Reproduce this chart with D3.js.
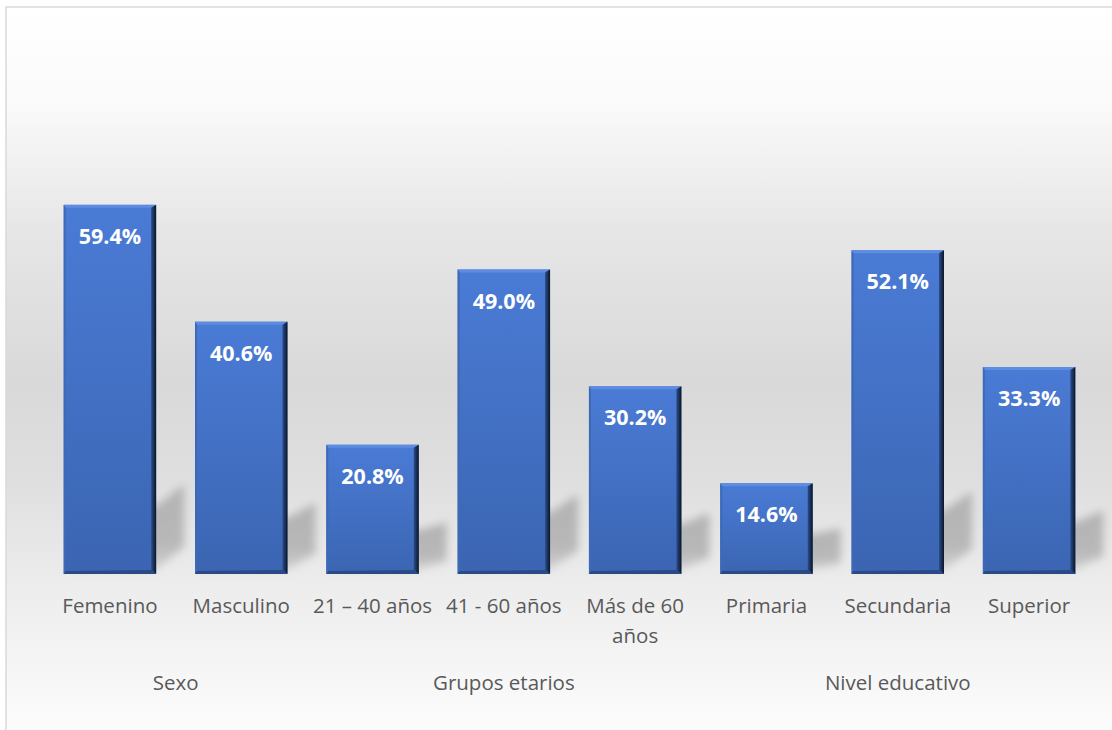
<!DOCTYPE html>
<html>
<head>
<meta charset="utf-8">
<script src="https://cdn.jsdelivr.net/npm/d3@7"></script>
<style>
  html, body { margin: 0; padding: 0; background: #fff; }
  svg { display: block; }
</style>
</head>
<body>
<svg id="chart" width="1112" height="730"></svg>
<script>
"use strict";

const categories = ["Femenino", "Masculino", "21 – 40 años", "41 - 60 años", "Más de 60 años", "Primaria", "Secundaria", "Superior"];
const values = [59.4, 40.6, 20.8, 49.0, 30.2, 14.6, 52.1, 33.3];
const groups = ["Sexo", "Grupos etarios", "Nivel educativo"];
const groupSizes = [2, 3, 3];

const W = 1112, H = 730;
const baseY = 574;
const labelFont = "'Open Sans', Lato, sans-serif";

const svg = d3.select("#chart");
const defs = svg.append("defs");

// background gradient of the chart area
let bg = defs.append("linearGradient").attr("id", "bg").attr("x1", 0).attr("y1", 0).attr("x2", 0).attr("y2", 1);
[[0, "#ffffff"], [0.12, "#fbfbfb"], [0.3, "#e6e6e6"], [0.5, "#d9d9d9"], [0.62, "#dedede"], [0.8, "#efefef"], [1, "#ffffff"]]
  .forEach(s => bg.append("stop").attr("offset", s[0]).attr("stop-color", s[1]));

let barGrad = defs.append("linearGradient").attr("id", "barFill").attr("x1", 0).attr("y1", 0).attr("x2", 0).attr("y2", 1);
barGrad.append("stop").attr("offset", 0).attr("stop-color", "#4a7bd5");
barGrad.append("stop").attr("offset", 1).attr("stop-color", "#3b65b2");

let rightGrad = defs.append("linearGradient").attr("id", "rightEdge").attr("x1", 0).attr("y1", 0).attr("x2", 1).attr("y2", 0);
rightGrad.append("stop").attr("offset", 0).attr("stop-color", "#2c4e8c");
rightGrad.append("stop").attr("offset", 1).attr("stop-color", "#0b1526");

defs.append("filter").attr("id", "blur").attr("x", "-50%").attr("y", "-50%").attr("width", "200%").attr("height", "200%")
  .append("feGaussianBlur").attr("stdDeviation", 4.5);

let shadowGrad = defs.append("linearGradient").attr("id", "shadowFill").attr("x1", 0).attr("y1", 0).attr("x2", 0).attr("y2", 1);
shadowGrad.append("stop").attr("offset", 0).attr("stop-color", "#b3b3b3");
shadowGrad.append("stop").attr("offset", 0.7).attr("stop-color", "#b8b8b8");
shadowGrad.append("stop").attr("offset", 1).attr("stop-color", "#d0d0d0");

svg.append("rect").attr("x", 6).attr("y", 7).attr("width", W + 20).attr("height", H + 20)
  .attr("fill", "url(#bg)").attr("stroke", "#d9d9d9").attr("stroke-width", 1.5);

const x = d3.scaleBand().domain(categories).range([44, 1095]).paddingInner(0.296).paddingOuter(0.15);
const y = d3.scaleLinear().domain([0, 70]).range([baseY, 139]);

// shadows cast behind the bars
svg.append("g").attr("filter", "url(#blur)")
  .selectAll("polygon").data(values).enter().append("polygon")
  .attr("fill", "url(#shadowFill)")
  .attr("points", (d, i) => {
    let x0 = x(categories[i]), x1 = x0 + x.bandwidth()
    let h = baseY - y(d)
    let k = 0.06 * h, sh = 0.1 * h + 26, dx = 28
    let b = baseY - 5
    return [[x0 + 10, b], [x1, b], [x1 + dx, b - k], [x1 + dx, b - k - sh], [x1, b - sh], [x0 + 10, b - sh]].map(p => p.join(",")).join(" ")
  });

// bars with bevel edges
let bars = svg.append("g").selectAll("g").data(values).enter().append("g");
bars.append("rect")
  .attr("x", (d, i) => x(categories[i])).attr("y", d => y(d))
  .attr("width", x.bandwidth()).attr("height", d => baseY - y(d))
  .attr("fill", "url(#barFill)");
const bev = 5;
// top bevel
bars.append("polygon").attr("fill", "#5d8ce0")
  .attr("points", (d, i) => {
    let x0 = x(categories[i]), x1 = x0 + x.bandwidth(), t = y(d)
    return [[x0, t], [x1, t], [x1 - bev, t + 3], [x0 + 2, t + 3]].map(p => p.join(",")).join(" ")
  });
// left bevel
bars.append("polygon").attr("fill", "#3e69b6")
  .attr("points", (d, i) => {
    let x0 = x(categories[i]), t = y(d)
    return [[x0, t], [x0 + 2, t + 3], [x0 + 2, baseY - 3], [x0, baseY]].map(p => p.join(",")).join(" ")
  });
// right bevel
bars.append("polygon").attr("fill", "url(#rightEdge)")
  .attr("points", (d, i) => {
    let x1 = x(categories[i]) + x.bandwidth(), t = y(d)
    return [[x1, t], [x1, baseY], [x1 - bev, baseY - 4], [x1 - bev, t + 3]].map(p => p.join(",")).join(" ")
  });
// bottom bevel
bars.append("polygon").attr("fill", "#2a4a85")
  .attr("points", (d, i) => {
    let x0 = x(categories[i]), x1 = x0 + x.bandwidth()
    return [[x0, baseY], [x1, baseY], [x1 - bev, baseY - 4], [x0 + 2, baseY - 3]].map(p => p.join(",")).join(" ")
  });

// value labels
svg.append("g").selectAll("text").data(values).enter().append("text")
  .attr("x", (d, i) => x(categories[i]) + x.bandwidth() / 2)
  .attr("y", d => y(d) + 39)
  .attr("text-anchor", "middle")
  .attr("font-family", labelFont).attr("font-weight", "bold").attr("font-size", 21.5)
  .attr("fill", "#ffffff")
  .text(d => d3.format(".1f")(d) + "%");

// category labels, wrapped to the band step
let catText = svg.append("g").selectAll("text").data(categories).enter().append("text")
  .attr("x", d => x(d) + x.bandwidth() / 2)
  .attr("y", 613)
  .attr("text-anchor", "middle")
  .attr("font-family", labelFont).attr("font-size", 20.5)
  .attr("fill", "#595959");
catText.each(function(d){
  let t = d3.select(this), cx = +t.attr("x")
  let words = d.split(" "), line = [], lines = []
  words.forEach(w => {
    t.text(line.concat(w).join(" "))
    if(this.getComputedTextLength() > x.step() && line.length){
      lines.push(line.join(" "))
      line = [w]
    } else {
      line.push(w)
    }
  })
  lines.push(line.join(" "))
  t.text(null)
  lines.forEach((l, j) => t.append("tspan").attr("x", cx).attr("dy", j ? 30 : 0).text(l))
});

// group labels
let start = 0;
let groupCenters = groupSizes.map(n => {
  let first = categories[start], last = categories[start + n - 1]
  start += n
  return (x(first) + x(last) + x.bandwidth()) / 2
});
svg.append("g").selectAll("text").data(groups).enter().append("text")
  .attr("x", (d, i) => groupCenters[i])
  .attr("y", 690)
  .attr("text-anchor", "middle")
  .attr("font-family", labelFont).attr("font-size", 20.5)
  .attr("fill", "#595959")
  .text(d => d);
</script>
</body>
</html>
